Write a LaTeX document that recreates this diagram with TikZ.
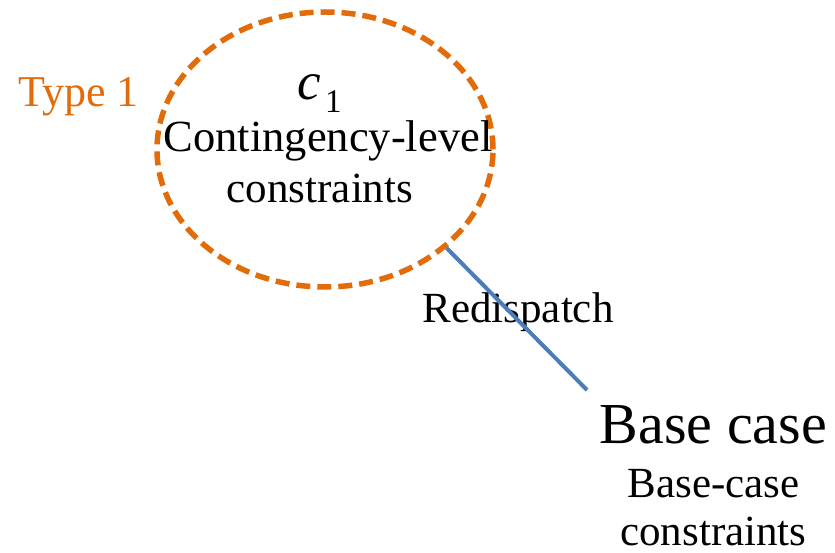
\documentclass[tikz,border=0pt]{standalone}
\usepackage{fontspec}
\setmainfont{Liberation Serif}
\usetikzlibrary{shapes.geometric}
\definecolor{typeorange}{HTML}{E36C0A}
\definecolor{linkblue}{HTML}{4A7EBB}
\tikzset{
  txt/.style={anchor=base, inner sep=0pt, font=\fontsize{43}{48}\selectfont},
  bigtxt/.style={anchor=base, inner sep=0pt, font=\fontsize{58}{64}\selectfont},
  region/.style={ellipse, draw=typeorange, line width=5.5pt,
    dash pattern=on 14pt off 7pt, inner sep=0pt},
  link/.style={draw=linkblue, line width=4pt}
}
\begin{document}
\begin{tikzpicture}[x=1pt, y=-1pt]
  \useasboundingbox (0,0) rectangle (835,553);
  % contingency region
  \node[region, minimum width=336pt, minimum height=275pt] (ell) at (325,149.5) {};
  \node[txt, anchor=base west, text=typeorange, font=\fontsize{44}{48}\selectfont] (type) at (18,107) {Type 1};
  \node[txt, anchor=base west, font=\fontsize{53}{58}\selectfont\itshape] (cname) at (297,100) {c};
  \node[txt, anchor=base west, font=\fontsize{33}{36}\selectfont] (cidx) at (325,113) {1};
  \node[txt, font=\fontsize{44.5}{48}\selectfont] (clevel) at (328,152) {Contingency-level};
  \node[txt] (cons) at (320,203) {constraints};
  % base case
  \node[txt] (redis) at (518,322) {Redispatch};
  \node[bigtxt] (base) at (713.5,443) {Base case};
  \node[txt] (bcase) at (713.5,497) {Base-case};
  \node[txt] (bcons) at (713.5,545) {constraints};
  % redispatch link
  \coordinate (tip) at (587,390);
  \draw[link] (ell.-39) -- (tip);
\end{tikzpicture}
\end{document}
